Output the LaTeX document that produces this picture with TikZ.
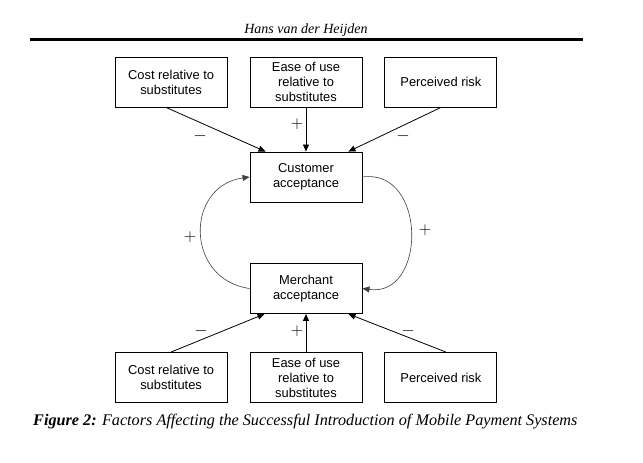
\documentclass[tikz,border=0pt]{standalone}
\usepackage{fontspec}
\setmainfont{Liberation Serif}
\newfontfamily\boxfont{Liberation Sans}
\usetikzlibrary{positioning,arrows.meta}
\tikzset{
  factor/.style={draw, line width=0.9pt, minimum width=112pt, minimum height=50pt,
    inner sep=1pt, align=center, font=\boxfont\fontsize{12.9}{15}\selectfont},
  infl/.style={line width=0.8pt, -{Triangle[length=7pt,width=6pt]}},
  loopline/.style={line width=0.6pt, black!75, -{Triangle[length=7pt,width=6pt]}},
  sign/.style={inner sep=0pt, font=\fontsize{16.5}{16}\selectfont}
}
\begin{document}
\begin{tikzpicture}[x=1pt, y=-1pt]
  \useasboundingbox (0,0) rectangle (643,463);
  % running head
  \node[font=\itshape\fontsize{14}{14}\selectfont, anchor=base] (head) at (306,33) {Hans van der Heijden};
  \draw[line width=3pt] (30,39.5) -- (583,39.5);
  % top row of factors
  \node[factor] (ct) at (306,82) {Ease of use\\relative to\\substitutes};
  \node[factor, left=22pt of ct] (lt) {Cost relative to\\substitutes};
  \node[factor, right=22pt of ct] (rt) {Perceived risk};
  % the two acceptance boxes
  \node[factor] (cust) at (306,177) {Customer\\acceptance};
  \node[factor] (merch) at (306,288.5) {Merchant\\acceptance};
  % bottom row of factors
  \node[factor] (cb) at (306,377.5) {Ease of use\\relative to\\substitutes};
  \node[factor, left=22pt of cb] (lb) {Cost relative to\\substitutes};
  \node[factor, right=22pt of cb] (rb) {Perceived risk};
  % influences on customer acceptance
  \draw[infl] ([xshift=-5pt]lt.south) -- ([xshift=16pt]cust.north west);
  \draw[infl] (ct.south) -- (cust.north);
  \draw[infl] (rt.south) -- ([xshift=-14pt]cust.north east);
  % influences on merchant acceptance
  \draw[infl] (lb.north) -- ([xshift=15pt]merch.south west);
  \draw[infl] (cb.north) -- (merch.south);
  \draw[infl] ([xshift=5pt]rb.north) -- ([xshift=-14pt]merch.south east);
  % feedback loop
  \draw[loopline] (merch.west) to[out=172, in=188, looseness=1.5] (cust.west);
  \draw[loopline] (cust.east) to[out=8, in=-8, looseness=1.5] (merch.east);
  % signs
  \node[sign] (s1) at (200,136) {$-$};
  \node[sign] (s2) at (297,124) {$+$};
  \node[sign] (s3) at (403,136) {$-$};
  \node[sign] (s4) at (201,331) {$-$};
  \node[sign] (s5) at (297,331) {$+$};
  \node[sign] (s6) at (408,331) {$-$};
  \node[sign] (s7) at (190,237) {$+$};
  \node[sign] (s8) at (425,230) {$+$};
  % caption
  \node[anchor=base west, inner sep=0pt, font=\itshape\fontsize{16.2}{17}\selectfont] (cap) at (33,425)
    {\textbf{Figure 2:} Factors Affecting the Successful Introduction of Mobile Payment Systems};
\end{tikzpicture}
\end{document}
